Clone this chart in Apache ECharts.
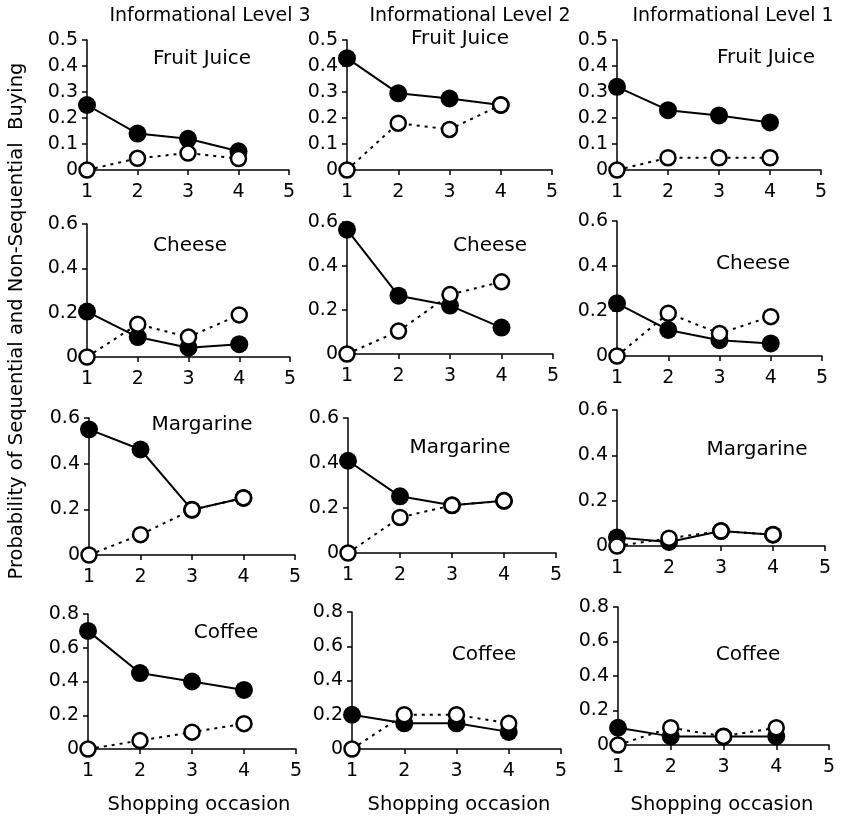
<!DOCTYPE html>
<html>
<head>
<meta charset="utf-8">
<script src="https://cdn.jsdelivr.net/npm/echarts@6/dist/echarts.min.js"></script>
<style>
  html, body { margin: 0; padding: 0; background: #fff; }
  #chart { width: 841px; height: 821px; }
</style>
</head>
<body>
<div id="chart"></div>
<script>
// shopping occasions on the x axis
const occasions = [1, 2, 3, 4];
const levels = ['Informational Level 3', 'Informational Level 2', 'Informational Level 1'];
const products = ['Fruit Juice', 'Cheese', 'Margarine', 'Coffee'];
const yMax = [0.5, 0.6, 0.6, 0.8];
const yStep = [0.1, 0.2, 0.2, 0.2];
const xLabel = 'Shopping occasion';
const yLabel = 'Probability of Sequential and Non-Sequential  Buying';

// sequential (filled) and non-sequential (open) buying, one row per level 3, 2, 1
const juiceSeq = [[0.25, 0.14, 0.12, 0.072], [0.43, 0.295, 0.275, 0.25], [0.32, 0.23, 0.21, 0.183]];
const juiceNon = [[0, 0.045, 0.065, 0.044], [0, 0.18, 0.156, 0.25], [0, 0.047, 0.047, 0.047]];
const cheeseSeq = [[0.205, 0.09, 0.042, 0.058], [0.565, 0.265, 0.22, 0.12], [0.234, 0.116, 0.07, 0.056]];
const cheeseNon = [[0, 0.148, 0.09, 0.19], [0, 0.104, 0.27, 0.328], [0, 0.19, 0.1, 0.175]];
const margarineSeq = [[0.55, 0.462, 0.198, 0.25], [0.41, 0.252, 0.212, 0.232], [0.038, 0.018, 0.066, 0.05]];
const margarineNon = [[0, 0.089, 0.198, 0.25], [0, 0.158, 0.212, 0.232], [0, 0.034, 0.066, 0.05]];
const coffeeSeq = [[0.7, 0.45, 0.4, 0.35], [0.2, 0.15, 0.15, 0.1], [0.1, 0.05, 0.05, 0.05]];
const coffeeNon = [[0, 0.05, 0.1, 0.15], [0, 0.2, 0.2, 0.15], [0, 0.1, 0.05, 0.1]];

const seqRows = [juiceSeq, cheeseSeq, margarineSeq, coffeeSeq];
const nonRows = [juiceNon, cheeseNon, margarineNon, coffeeNon];

// panel boxes [left, top, width, height], row by row
const boxes = [
  [87, 40, 202, 130], [347, 40, 205, 130], [617, 40, 204, 130],
  [87, 224, 203, 133], [347, 222, 206, 132], [617, 221, 205, 135],
  [89, 418, 206, 137], [348, 418, 208, 135], [617, 410, 208, 136],
  [88, 614, 208, 135], [352, 612, 209, 137], [618, 607, 211, 138]
];
const productPos = [
  [202, 59], [460, 39], [766, 58],
  [190, 246], [490, 246], [753, 264],
  [202, 425], [460, 448], [757, 450],
  [226, 633], [484, 655], [748, 655]
];
const levelPos = [[210, 16], [470, 16], [733, 16]];
const xLabelPos = [[199, 805], [459, 805], [722, 805]];

const FONT = 'DejaVu Sans';
const INK = '#000';

const chart = echarts.init(document.getElementById('chart'));

const grid = [], xAxis = [], yAxis = [], series = [], graphic = [];

products.forEach((product, row) => {
  levels.forEach((level, col) => {
    const i = row * 3 + col;
    const b = boxes[i];
    grid.push({ left: b[0], top: b[1], width: b[2], height: b[3], containLabel: false });
    const axisLine = { show: true, lineStyle: { color: INK, width: 1.5 } };
    const axisTick = { show: true, length: 5, lineStyle: { color: INK, width: 1.5 } };
    xAxis.push({
      type: 'value', gridIndex: i, min: 1, max: 5, interval: 1,
      axisLine, axisTick, splitLine: { show: false },
      axisLabel: { color: INK, fontSize: 19, fontFamily: FONT, margin: 13 }
    });
    yAxis.push({
      type: 'value', gridIndex: i, min: 0, max: yMax[row], interval: yStep[row],
      axisLine, axisTick, splitLine: { show: false },
      axisLabel: {
        color: INK, fontSize: 19, fontFamily: FONT, margin: 9,
        formatter: (v) => (v === 0 ? '0' : v.toFixed(1))
      }
    });
    series.push({
      type: 'line', xAxisIndex: i, yAxisIndex: i, z: 2, clip: false, silent: true,
      data: occasions.map((o, k) => [o, seqRows[row][col][k]]),
      symbol: 'circle', symbolSize: 18,
      itemStyle: { color: INK },
      lineStyle: { color: INK, width: 2 }
    });
    series.push({
      type: 'line', xAxisIndex: i, yAxisIndex: i, z: 3, clip: false, silent: true,
      data: occasions.map((o, k) => [o, nonRows[row][col][k]]),
      symbol: 'circle', symbolSize: 15,
      itemStyle: { color: '#fff', borderColor: INK, borderWidth: 2.5 },
      lineStyle: { color: INK, width: 2, type: [3, 5] }
    });
    graphic.push({
      type: 'text', x: productPos[i][0], y: productPos[i][1],
      style: { text: product, fill: INK, font: `20px "${FONT}"`, textAlign: 'center', textVerticalAlign: 'middle' }
    });
  });
});

levels.forEach((level, col) => {
  graphic.push({
    type: 'text', x: levelPos[col][0], y: levelPos[col][1],
    style: { text: level, fill: INK, font: `19px "${FONT}"`, textAlign: 'center', textVerticalAlign: 'middle' }
  });
  graphic.push({
    type: 'text', x: xLabelPos[col][0], y: xLabelPos[col][1],
    style: { text: xLabel, fill: INK, font: `19.5px "${FONT}"`, textAlign: 'center', textVerticalAlign: 'middle' }
  });
});

graphic.push({
  type: 'text', x: 17, y: 321, rotation: Math.PI / 2,
  style: { text: yLabel, fill: INK, font: `19.5px "${FONT}"`, textAlign: 'center', textVerticalAlign: 'middle' }
});

chart.setOption({
  animation: false,
  backgroundColor: '#fff',
  grid, xAxis, yAxis, series, graphic
});
</script>
</body>
</html>
